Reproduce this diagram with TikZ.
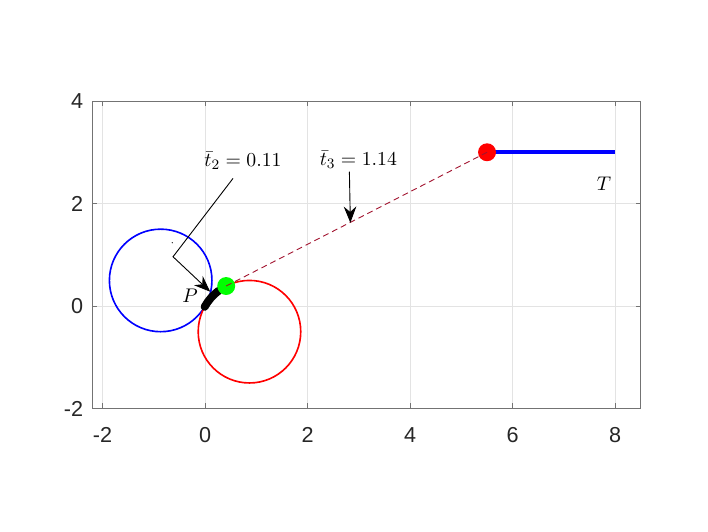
\documentclass[tikz,border=0pt]{standalone}
\usepackage{fontspec}
\setsansfont{Liberation Sans}
\usetikzlibrary{arrows.meta}
\definecolor{dashred}{rgb}{0.635,0.078,0.184}
\definecolor{axisgray}{rgb}{0.45,0.45,0.45}
\tikzset{
  gridline/.style={draw=black!11, line width=0.4pt},
  axisline/.style={draw=axisgray, line width=0.5pt},
  ticklabel/.style={font=\sffamily\fontsize{12}{14}\selectfont, text=black!85, inner sep=0pt},
  mathlabel/.style={font=\fontsize{11}{13}\selectfont, inner sep=0pt},
  marker/.style={circle, inner sep=0pt, minimum size=0.35cm},
  pointer/.style={-{Stealth[length=9pt,width=7pt,inset=3pt]}, line width=0.5pt},
}
\begin{document}
\begin{tikzpicture}
  \useasboundingbox (-4.0,-4.39) rectangle (9.81,5.97);
  \foreach \x in {-2,0,...,8}
    \draw[gridline] (\x,-2) -- (\x,4);
  \foreach \y in {-2,0,2,4}
    \draw[gridline] (-2.2,\y) -- (8.5,\y);
  \draw[axisline] (-2.2,-2) rectangle (8.5,4);
  \foreach \x in {-2,0,...,8} {
    \draw[axisline] (\x,-2) -- ++(0,0.1);
    \draw[axisline] (\x,4) -- ++(0,-0.1);
    \node[ticklabel, anchor=north] (x\x) at (\x,-2.36) {\x};
  }
  \foreach \y in {-2,0,2,4} {
    \draw[axisline] (-2.2,\y) -- ++(0.1,0);
    \draw[axisline] (8.5,\y) -- ++(-0.1,0);
    \node[ticklabel, anchor=east] (y\y) at (-2.37,\y) {\y};
  }
  \draw[blue, line width=0.9pt] (-0.866,0.5) circle (1);
  \draw[red, line width=0.9pt] (0.866,-0.5) circle (1);
  \draw[line width=4.4pt, line cap=round] (0.866,-0.5) ++(151:1) arc (151:127:1);
  \coordinate (tp) at (8,3);
  \draw[blue, line width=2pt] (5.5,3) -- (tp);
  \node[marker, fill=red] (rp) at (5.5,3) {};
  \node[marker, fill=green] (gp) at (0.412,0.391) {};
  \draw[dashred, line width=0.5pt, dash pattern=on 3.3pt off 2.2pt] (gp.center) -- (rp.center);
  \node[mathlabel] (plabel) at (-0.29,0.21) {$P$};
  \node[mathlabel] (tlabel) at (7.78,2.39) {$T$};
  \node[mathlabel] (t2) at (0.74,2.83) {$\bar{t}_2 = 0.11$};
  \node[mathlabel] (t3) at (2.99,2.85) {$\bar{t}_3 = 1.14$};
  \coordinate (t2from) at (0.545,2.49);
  \coordinate (t2knee) at (-0.625,0.962);
  \coordinate (t2tip) at (0.10,0.28);
  \coordinate (t3from) at (2.815,2.62);
  \coordinate (t3tip) at (2.834,1.625);
  \draw[pointer] (t2from) -- (t2knee) -- (t2tip);
  \draw[pointer] (t3from) -- (t3tip);
  \fill (-0.64,1.235) circle (0.012);
\end{tikzpicture}
\end{document}
